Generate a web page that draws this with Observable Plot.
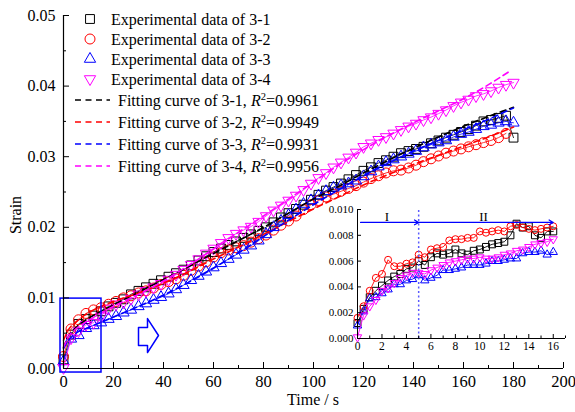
<!DOCTYPE html>
<html><head><meta charset="utf-8">
<script src="https://cdn.jsdelivr.net/npm/d3@7"></script>
<script src="https://cdn.jsdelivr.net/npm/@observablehq/plot@0.6"></script>
<style>
html,body{margin:0;padding:0;background:#fff;}
#wrap{position:relative;width:575px;height:412px;overflow:hidden;}
#inset{position:absolute;left:300px;top:190px;}
svg{overflow:visible;}
</style></head><body><div id="wrap"><div id="main"></div><div id="inset"></div></div>
<script>
const FONT = "'Liberation Serif','Times New Roman',serif";

// ---- main experimental data (time in s, strain) ----
const mainT = [0,3,6,9,12,15,18,21,24,27,30,33,36,39,42,45,48,51,54,57,60,63,66,69,72,75,78,81,84,87,90,93,96,99,102,105,108,111,114,117,120,123,126,129,132,135,138,141,144,147,150,153,156,159,162,165,168,171,174,177,180];
const exp31 = [0.0013,0.0048,0.0063,0.0070,0.0075,0.0081,0.0088,0.0093,0.0098,0.0105,0.0110,0.0115,0.0120,0.0125,0.0130,0.0135,0.0140,0.0146,0.0153,0.0159,0.0165,0.0170,0.0175,0.0180,0.0185,0.0190,0.0195,0.0200,0.0207,0.0214,0.0220,0.0226,0.0232,0.0239,0.0246,0.0252,0.0257,0.0262,0.0268,0.0274,0.0280,0.0285,0.0291,0.0295,0.0300,0.0305,0.0308,0.0311,0.0314,0.0319,0.0323,0.0327,0.0331,0.0335,0.0339,0.0344,0.0350,0.0352,0.0355,0.0358,0.0327];
const exp32 = [0.0017,0.0056,0.0069,0.0078,0.0083,0.0086,0.0091,0.0095,0.0100,0.0103,0.0107,0.0110,0.0114,0.0119,0.0123,0.0127,0.0132,0.0139,0.0145,0.0151,0.0158,0.0164,0.0168,0.0171,0.0174,0.0179,0.0184,0.0189,0.0196,0.0203,0.0209,0.0216,0.0225,0.0232,0.0238,0.0243,0.0247,0.0251,0.0255,0.0259,0.0264,0.0269,0.0273,0.0277,0.0280,0.0281,0.0284,0.0288,0.0293,0.0297,0.0301,0.0305,0.0308,0.0311,0.0314,0.0317,0.0320,0.0323,0.0327,0.0333];
const exp33 = [0.0010,0.0042,0.0047,0.0057,0.0061,0.0065,0.0070,0.0074,0.0079,0.0083,0.0088,0.0092,0.0097,0.0101,0.0106,0.0112,0.0118,0.0125,0.0131,0.0137,0.0143,0.0149,0.0155,0.0161,0.0168,0.0174,0.0181,0.0190,0.0200,0.0209,0.0217,0.0225,0.0233,0.0238,0.0245,0.0251,0.0256,0.0259,0.0262,0.0266,0.0272,0.0279,0.0286,0.0292,0.0296,0.0300,0.0304,0.0308,0.0313,0.0317,0.0320,0.0323,0.0328,0.0332,0.0335,0.0339,0.0343,0.0345,0.0348,0.0350,0.0348];
const exp34 = [0.0001,0.0043,0.0053,0.0062,0.0065,0.0074,0.0085,0.0091,0.0094,0.0099,0.0105,0.0110,0.0115,0.0120,0.0126,0.0133,0.0140,0.0147,0.0155,0.0163,0.0170,0.0178,0.0185,0.0191,0.0196,0.0201,0.0208,0.0216,0.0224,0.0231,0.0238,0.0245,0.0253,0.0262,0.0270,0.0277,0.0285,0.0292,0.0299,0.0306,0.0314,0.0319,0.0324,0.0328,0.0333,0.0338,0.0343,0.0347,0.0352,0.0356,0.0361,0.0366,0.0372,0.0377,0.0381,0.0386,0.0389,0.0393,0.0398,0.0402,0.0405];

// ---- fitting curves ----
const fitT  = [0,2,5,10,20,30,40,50,60,70,80,90,100,110,120,130,140,150,160,170,180];
const fitT4 = [0,2,5,10,20,30,40,50,60,70,80,90,100,110,120,130,140,150,160,170,178];
const fit31 = [0.0030,0.0045,0.0058,0.0071,0.0090,0.0108,0.0126,0.0144,0.0163,0.0181,0.0200,0.0220,0.0240,0.0258,0.0277,0.0295,0.0312,0.0328,0.0343,0.0357,0.0370];
const fit32 = [0.0040,0.0055,0.0066,0.0079,0.0095,0.0107,0.0121,0.0137,0.0155,0.0172,0.0190,0.0208,0.0226,0.0243,0.0260,0.0275,0.0289,0.0302,0.0315,0.0328,0.0342];
const fit33 = [0.0028,0.0040,0.0050,0.0058,0.0073,0.0088,0.0104,0.0122,0.0142,0.0164,0.0187,0.0210,0.0232,0.0253,0.0273,0.0291,0.0308,0.0323,0.0338,0.0353,0.0369];
const fit34 = [0.0030,0.0045,0.0056,0.0068,0.0088,0.0105,0.0124,0.0146,0.0169,0.0193,0.0216,0.0240,0.0264,0.0288,0.0310,0.0330,0.0348,0.0365,0.0382,0.0402,0.0420];
const r2 = ["0.9961","0.9949","0.9931","0.9956"];

// ---- inset data (first 16 s) ----
const insetT = [0,0.5,1,1.5,2,2.5,3,3.5,4,4.5,5,5.5,6,6.5,7,7.5,8,8.5,9,9.5,10,10.5,11,11.5,12,12.5,13,13.5,14,14.5,15,15.5,16];
const in31 = [0.0012,0.0023,0.0032,0.0037,0.0041,0.0045,0.0048,0.0050,0.0054,0.0055,0.0060,0.0057,0.0063,0.0066,0.0065,0.0066,0.0069,0.0066,0.0065,0.0068,0.0069,0.0071,0.0073,0.0074,0.0075,0.0080,0.0089,0.0086,0.0087,0.0080,0.0078,0.0083,0.0083];
const in32 = [0.0016,0.0025,0.0037,0.0047,0.0050,0.0061,0.0056,0.0056,0.0058,0.0059,0.0065,0.0063,0.0069,0.0070,0.0071,0.0076,0.0077,0.0077,0.0078,0.0078,0.0083,0.0082,0.0083,0.0084,0.0083,0.0087,0.0088,0.0086,0.0085,0.0084,0.0085,0.0086,0.0087];
const in33 = [0.0010,0.0021,0.0031,0.0032,0.0035,0.0038,0.0042,0.0042,0.0045,0.0046,0.0049,0.0045,0.0047,0.0049,0.0053,0.0053,0.0054,0.0055,0.0057,0.0057,0.0057,0.0058,0.0060,0.0060,0.0061,0.0062,0.0062,0.0066,0.0067,0.0067,0.0068,0.0065,0.0067];
const in34 = [0.0001,0.0018,0.0025,0.0030,0.0037,0.0039,0.0043,0.0047,0.0049,0.0051,0.0051,0.0050,0.0053,0.0055,0.0057,0.0059,0.0060,0.0061,0.0062,0.0062,0.0063,0.0062,0.0062,0.0063,0.0065,0.0066,0.0068,0.0069,0.0071,0.0073,0.0074,0.0075,0.0077];

// ---- ticks ----
const xMajor = [0,20,40,60,80,100,120,140,160,180,200];
const xMinor = [10,30,50,70,90,110,130,150,170,190];
const yMajor = [0,0.01,0.02,0.03,0.04,0.05];
const yMinor = [0.005,0.015,0.025,0.035,0.045];
const ixMajor = [0,2,4,6,8,10,12,14,16];
const ixMinor = [1,3,5,7,9,11,13,15,17];
const iyMajor = [0,0.002,0.004,0.006,0.008,0.010];

// ---- zoom box and arrow decoration (data units) ----
const zoomBox = [{x1:-1.2, x2:15.2, y1:-0.00057, y2:0.0099}];
const arrowShape = [[30,0.0058],[33.6,0.0058],[33.6,0.00707],[38,0.00467],[33.6,0.00226],[33.6,0.00325],[30,0.00325],[30,0.0058]];

const colors = ["#000000","#ff0000","#0000ff","#ff00ff"];
const symbols = ["square","circle","triangle","triangle"];
const rotates = [0,0,0,180];
const labels = ["3-1","3-2","3-3","3-4"];

const toRows = (T, S) => S.map((s,i)=>({t:T[i], s}));
const mainSets = [exp31,exp32,exp33,exp34].map(S=>toRows(mainT,S));
const fitSets = [toRows(fitT,fit31),toRows(fitT,fit32),toRows(fitT,fit33),toRows(fitT4,fit34)];
const insetSets = [in31,in32,in33,in34].map(S=>toRows(insetT,S));

const mainR = [5,5,4.2,4.2];
const insetR = [3.9,3.5,3.1,3.1];

const marks = [];
mainSets.forEach((d,i)=>{
  marks.push(Plot.line(d,{x:"t",y:"s",stroke:colors[i],strokeWidth:0.8}));
  marks.push(Plot.dot(d,{x:"t",y:"s",symbol:symbols[i],rotate:rotates[i],r:mainR[i],stroke:colors[i],fill:"none",strokeWidth:1}));
});
fitSets.forEach((d,i)=>{
  marks.push(Plot.line(d,{x:"t",y:"s",stroke:colors[i],strokeWidth:1.6,strokeDasharray:"6,4",curve:"monotone-x"}));
});
marks.push(Plot.rect(zoomBox,{x1:"x1",x2:"x2",y1:"y1",y2:"y2",stroke:"#0000ff",fill:"none",strokeWidth:1.5}));
marks.push(Plot.line(arrowShape,{x:d=>d[0],y:d=>d[1],stroke:"#0000ff",strokeWidth:1.5}));
marks.push(Plot.ruleX([0],{y1:0,y2:0.05,stroke:"#000",strokeWidth:1.2}));
marks.push(Plot.ruleY([0],{x1:0,x2:200,stroke:"#000",strokeWidth:1.2}));
marks.push(Plot.axisX(xMajor,{tickSize:0,tickPadding:7,fontSize:16.5,label:null}));
marks.push(Plot.axisX(xMajor,{tickSize:-6,tickFormat:()=>"",label:null}));
marks.push(Plot.axisX(xMinor,{tickSize:-3,tickFormat:()=>"",label:null}));
marks.push(Plot.axisY(yMajor,{tickSize:0,tickPadding:8,fontSize:16,tickFormat:d3.format(".2f"),label:null}));
marks.push(Plot.axisY(yMajor,{tickSize:-6,tickFormat:()=>"",label:null}));
marks.push(Plot.axisY(yMinor,{tickSize:-3,tickFormat:()=>"",label:null}));

const mainPlot = Plot.plot({
  width:575,height:412,
  marginLeft:63,marginRight:12,marginTop:15,marginBottom:44,
  x:{domain:[0,200]},
  y:{domain:[0,0.05]},
  style:{fontFamily:FONT,background:"transparent",color:"#000"},
  marks
});
document.getElementById("main").appendChild(mainPlot);

// legend and axis titles
const svg = d3.select(mainPlot);
const lg = svg.append("g").attr("font-family",FONT).attr("font-size",16).attr("fill","#000").attr("text-anchor","start");
const d3sym = {square:d3.symbolSquare,circle:d3.symbolCircle,triangle:d3.symbolTriangle};
labels.forEach((lab,i)=>{
  const y = 19 + 20*i;
  lg.append("path")
    .attr("transform",`translate(90,${y}) rotate(${rotates[i]})`)
    .attr("d",d3.symbol(d3sym[symbols[i]], Math.PI*mainR[i]*mainR[i])())
    .attr("fill","none").attr("stroke",colors[i]).attr("stroke-width",1);
  lg.append("text").attr("x",111).attr("y",y+5.5).attr("text-anchor","start").text(`Experimental data of ${lab}`);
});
labels.forEach((lab,i)=>{
  const y = 100 + 22*i;
  lg.append("line").attr("x1",75).attr("x2",110).attr("y1",y).attr("y2",y)
    .attr("stroke",colors[i]).attr("stroke-width",1.6).attr("stroke-dasharray","6,4.5");
  const t = lg.append("text").attr("x",118).attr("y",y+5.5).attr("text-anchor","start");
  t.append("tspan").text(`Fitting curve of ${lab}, `);
  t.append("tspan").attr("font-style","italic").text("R");
  t.append("tspan").attr("dy",-6).attr("font-size",10.5).text("2");
  t.append("tspan").attr("dy",6).text(`=${r2[i]}`);
});
svg.append("text").attr("transform","translate(21,215) rotate(-90)").attr("text-anchor","middle")
  .attr("font-family",FONT).attr("font-size",16).text("Strain");
svg.append("text").attr("x",313).attr("y",405).attr("text-anchor","middle")
  .attr("font-family",FONT).attr("font-size",16).text("Time / s");

// ---- inset ----
const imarks = [];
insetSets.forEach((d,i)=>{
  imarks.push(Plot.line(d,{x:"t",y:"s",stroke:colors[i],strokeWidth:0.9}));
  imarks.push(Plot.dot(d,{x:"t",y:"s",symbol:symbols[i],rotate:rotates[i],r:insetR[i],stroke:colors[i],fill:"none",strokeWidth:1}));
});
imarks.push(Plot.ruleX([5],{y1:0,y2:0.0101,stroke:"#5a5aff",strokeWidth:1.5,strokeDasharray:"2,2.5"}));
imarks.push(Plot.arrow([{x1:0.25,x2:5,y:0.009},{x1:5,x2:16,y:0.009}],{x1:"x1",x2:"x2",y1:"y",y2:"y",stroke:"#0000ff",strokeWidth:1.2,headLength:6}));
imarks.push(Plot.text([{x:2.4,t:"I"},{x:10.3,t:"II"}],{x:"x",y:0.0094,text:"t",fontSize:13,fill:"#000"}));
imarks.push(Plot.ruleX([0],{y1:0,y2:0.010,stroke:"#000",strokeWidth:1}));
imarks.push(Plot.ruleY([0],{x1:0,x2:17,stroke:"#000",strokeWidth:1}));
imarks.push(Plot.axisX(ixMajor,{tickSize:0,tickPadding:3,fontSize:11.5,label:null}));
imarks.push(Plot.axisX(ixMajor,{tickSize:-4,tickFormat:()=>"",label:null}));
imarks.push(Plot.axisX(ixMinor,{tickSize:-2.5,tickFormat:()=>"",label:null}));
imarks.push(Plot.axisY(iyMajor,{tickSize:0,tickPadding:4,fontSize:11,tickFormat:d3.format(".3f"),label:null}));
imarks.push(Plot.axisY(iyMajor,{tickSize:-4,tickFormat:()=>"",label:null}));

const insetPlot = Plot.plot({
  width:275,height:180,
  marginLeft:57,marginRight:10,marginTop:19,marginBottom:32,
  x:{domain:[0,17]},
  y:{domain:[0,0.010]},
  style:{fontFamily:FONT,background:"transparent",color:"#000"},
  marks:imarks
});
document.getElementById("inset").appendChild(insetPlot);
</script>
</body></html>
